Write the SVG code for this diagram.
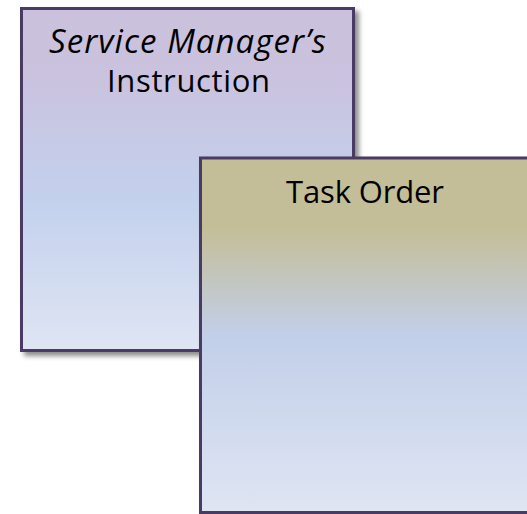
<svg xmlns="http://www.w3.org/2000/svg" width="527" height="514" viewBox="0 0 527 514">
  <defs>
    <linearGradient id="fill-instruction" x1="0" y1="0" x2="0" y2="1">
      <stop offset="0" stop-color="#cbc1dc"/>
      <stop offset="0.2" stop-color="#cac2de"/>
      <stop offset="0.56" stop-color="#c3d1ed"/>
      <stop offset="1" stop-color="#dfe5f3"/>
    </linearGradient>
    <linearGradient id="fill-task" x1="0" y1="0" x2="0" y2="1">
      <stop offset="0" stop-color="#c4be98"/>
      <stop offset="0.2" stop-color="#c4be98"/>
      <stop offset="0.5" stop-color="#c2cfe9"/>
      <stop offset="1" stop-color="#dfe5f3"/>
    </linearGradient>
    <filter id="shadow" x="-10%" y="-10%" width="125%" height="125%">
      <feGaussianBlur in="SourceAlpha" stdDeviation="2.5"/>
      <feOffset dx="4" dy="4" result="blur"/>
      <feFlood flood-color="#000" flood-opacity="0.45"/>
      <feComposite in2="blur" operator="in"/>
      <feMerge>
        <feMergeNode/>
        <feMergeNode in="SourceGraphic"/>
      </feMerge>
    </filter>
  </defs>
  <style>
    .box { stroke: #4a3a64; stroke-width: 3; filter: url(#shadow); }
    .label { font-family: "Open Sans", "Liberation Sans", sans-serif; font-size: 31px; fill: #000; text-anchor: middle; }
    .italic { font-style: italic; font-size: 33px; }
  </style>

  <g id="service-managers-instruction">
    <rect class="box" x="21.5" y="8.5" width="332" height="342" fill="url(#fill-instruction)"/>
    <text class="label italic" x="187.5" y="53" textLength="277">Service Manager’s</text>
    <text class="label" x="188.5" y="92" textLength="163">Instruction</text>
  </g>

  <g id="task-order">
    <rect class="box" x="200.5" y="158" width="330" height="354.5" fill="url(#fill-task)"/>
    <text class="label" x="365" y="203" textLength="158">Task Order</text>
  </g>
</svg>
